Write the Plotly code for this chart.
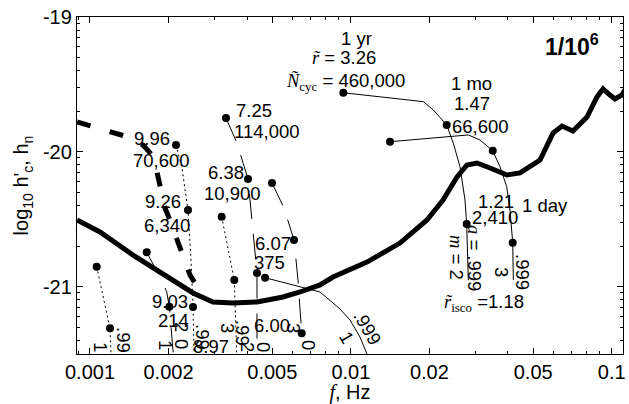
import numpy as np
import plotly.graph_objects as go

SANS = "Liberation Sans, Arial, sans-serif"
SERIF = "Liberation Serif, Times New Roman, serif"

# ---------------- data (f in Hz, y = log10 h) ----------------
noise_f = [0.000892, 0.001092, 0.001462, 0.001973, 0.002483, 0.002962, 0.003534, 0.004367,
           0.005495, 0.006385, 0.007617, 0.008545, 0.01153, 0.01543, 0.01958, 0.02256,
           0.02553, 0.02788, 0.03045, 0.03416, 0.03969, 0.04452, 0.05311, 0.05957,
           0.0645, 0.07105, 0.0804, 0.08785, 0.0926, 0.0985, 0.1030, 0.1095, 0.1134]
noise_y = [-20.506, -20.595, -20.766, -20.929, -21.047, -21.114, -21.122, -21.114,
           -21.077, -21.040, -20.988, -20.929, -20.818, -20.677, -20.506, -20.358,
           -20.187, -20.098, -20.083, -20.120, -20.172, -20.157, -20.061, -19.861,
           -19.809, -19.846, -19.742, -19.593, -19.534, -19.579, -19.608, -19.579, -19.527]

noise2_f = [0.000892, 0.001, 0.001193, 0.001362, 0.001597, 0.001729, 0.001806, 0.001872,
            0.001939, 0.002044, 0.002175, 0.002273, 0.002417, 0.002594]
noise2_y = [-19.779, -19.809, -19.853, -19.883, -19.950, -20.024, -20.150, -20.276,
            -20.417, -20.528, -20.677, -20.766, -20.914, -21.010]

# a=.999 tracks
a999_m2_f = [0.009361, 0.01896, 0.02071, 0.02331, 0.02471, 0.02621, 0.02739, 0.02780, 0.02820]
a999_m2_y = [-19.562, -19.628, -19.690, -19.801, -19.937, -20.111, -20.358, -20.536, -20.951]
a999_m2_dots = [0, 3, 7]
a999_m3_f = [0.01413, 0.02820, 0.03126, 0.03499, 0.03731, 0.03959, 0.04075, 0.04174, 0.04196]
a999_m3_y = [-19.925, -19.875, -19.912, -19.992, -20.111, -20.259, -20.432, -20.674, -20.951]
a999_m3_dots = [0, 3, 7]
a999_m1_f = [0.004689, 0.007617, 0.009087, 0.009924, 0.01084, 0.01153]
a999_m1_y = [-20.934, -21.040, -21.166, -21.248, -21.374, -21.500]
a999_m1_dots = [0]

# a=0 tracks
a0_m2_f = [0.003322, 0.003660, 0.004034, 0.004216, 0.004367, 0.004367]
a0_m2_y = [-19.749, -19.935, -20.202, -20.573, -20.899, -21.500]
a0_m2_dots = [0, 2, 4]
a0_m3_f = [0.004986, 0.005542, 0.006055, 0.006272, 0.006481]
a0_m3_y = [-20.231, -20.417, -20.654, -20.951, -21.346]
a0_m3_dots = [0, 2, 4]
a0_m1_f = [0.001650, 0.001855, 0.001968, 0.002014, 0.002086]
a0_m1_y = [-20.746, -20.927, -21.038, -21.149, -21.500]
a0_m1_dots = [0, 3]

# a=.99 tracks
a99_m2_f = [0.002137, 0.002253, 0.002375, 0.002439, 0.002483, 0.002504]
a99_m2_y = [-19.950, -20.120, -20.432, -20.803, -21.151, -21.500]
a99_m2_dots = [0, 2, 4]
a99_m3_f = [0.003198, 0.003441, 0.003574, 0.003650]
a99_m3_y = [-20.481, -20.780, -20.951, -21.500]
a99_m3_dots = [0, 2]
a99_m1_f = [0.001061, 0.001193, 0.001204]
a99_m1_y = [-20.852, -21.309, -21.500]
a99_m1_dots = [0, 1]

x_tickvals = [0.001, 0.002, 0.005, 0.01, 0.02, 0.05, 0.1]
x_ticktext = ["0.001", "0.002", "0.005", "0.01", "0.02", "0.05", "0.1"]
y_tickvals = [-21, -20, -19]
y_ticktext = ["-21", "-20", "-19"]

# labels: (text, log10 f, y, angle)
labels = [
    ("1 yr", -1.980, -19.156, 0),
    ("<span style='font-family:Liberation Serif'><i>r\u0303</i></span> = 3.26", -2.0263, -19.304, 0),
    ("<span style='font-family:Liberation Serif'><i>\u00d1</i><sub>cyc</sub></span> = 460,000", -2.0224, -19.482, 0),
    ("1 mo", -1.5356, -19.490, 0),
    ("1.47", -1.5356, -19.638, 0),
    ("66,600", -1.5011, -19.809, 0),
    ("1.21", -1.4435, -20.365, 0),
    ("1 day", -1.2557, -20.395, 0),
    ("2,410", -1.4474, -20.484, 0),
    ("<span style='font-family:Liberation Serif'><i>m</i></span> = 2", -1.5969, -20.780, 90),
    ("<span style='font-family:Liberation Serif'><i>a</i></span> = .999", -1.5241, -20.788, 90),
    ("3", -1.4206, -20.892, 90),
    (".999", -1.3400, -20.892, 90),
    ("<span style='font-family:Liberation Serif'><i>r\u0303</i><sub>isco</sub></span> =1.18", -1.4896, -21.122, 0),
    ("7.25", -2.3713, -19.690, 0),
    ("114,000", -2.3214, -19.846, 0),
    ("6.38", -2.4786, -20.150, 0),
    ("10,900", -2.4556, -20.306, 0),
    ("6.07", -2.2985, -20.677, 0),
    ("375", -2.3100, -20.818, 0),
    ("9.96", -2.7623, -19.898, 0),
    ("70,600", -2.7278, -20.061, 0),
    ("9.26", -2.7201, -20.372, 0),
    ("6,340", -2.7048, -20.543, 0),
    ("9.03", -2.6933, -21.114, 0),
    ("214", -2.6780, -21.248, 0),
    ("8.97", -2.5361, -21.448, 0),
    ("6.00", -2.3023, -21.292, 0),
    ("1", -2.9617, -21.448, 90),
    (".99", -2.8735, -21.396, 90),
    ("1", -2.7125, -21.433, 90),
    ("2", -2.6473, -21.300, 90),
    ("0", -2.6473, -21.426, 90),
    (".99", -2.5668, -21.374, 90),
    ("3", -2.4748, -21.307, 90),
    (".99", -2.4173, -21.344, 90),
    ("2", -2.3981, -21.448, 90),
    ("0", -2.3368, -21.448, 90),
    ("3", -2.2218, -21.307, 90),
    ("0", -2.1643, -21.433, 90),
    ("1", -2.0148, -21.374, 60),
    (".999", -1.9381, -21.307, 60),
]

fig = go.Figure()

def track(fs, ys, dots, dash):
    fig.add_trace(go.Scatter(x=fs, y=ys, mode="lines",
                             line=dict(color="black", width=1, dash=dash),
                             hoverinfo="skip", showlegend=False))
    fig.add_trace(go.Scatter(x=[fs[i] for i in dots], y=[ys[i] for i in dots],
                             mode="markers", marker=dict(color="black", size=8),
                             hoverinfo="skip", showlegend=False))

track(a999_m2_f, a999_m2_y, a999_m2_dots, "solid")
track(a999_m3_f, a999_m3_y, a999_m3_dots, "solid")
track(a999_m1_f, a999_m1_y, a999_m1_dots, "solid")
track(a0_m2_f, a0_m2_y, a0_m2_dots, "25px,15px")
track(a0_m3_f, a0_m3_y, a0_m3_dots, "25px,15px")
track(a0_m1_f, a0_m1_y, a0_m1_dots, "25px,15px")
track(a99_m2_f, a99_m2_y, a99_m2_dots, "2px,3px")
track(a99_m3_f, a99_m3_y, a99_m3_dots, "2px,3px")
track(a99_m1_f, a99_m1_y, a99_m1_dots, "2px,3px")

fig.add_trace(go.Scatter(x=noise_f, y=noise_y, mode="lines",
                         line=dict(color="black", width=5),
                         hoverinfo="skip", showlegend=False))
fig.add_trace(go.Scatter(x=noise2_f, y=noise2_y, mode="lines",
                         line=dict(color="black", width=5, dash="14px,20px"),
                         hoverinfo="skip", showlegend=False))

for text, lx, ly, ang in labels:
    fig.add_annotation(x=lx, y=ly, xref="x", yref="y", text=text, showarrow=False,
                       textangle=ang, font=dict(family=SANS, size=18.5, color="black"))

fig.add_annotation(x=-1.1522, y=-19.208, xref="x", yref="y",
                   text="<b>1/10<sup>6</sup></b>", showarrow=False,
                   font=dict(family=SANS, size=23, color="black"))

y_minor = [d + np.log10(n) for d in (-22, -21, -20) for n in range(2, 10)]
y_minor = [v for v in y_minor if -21.5 <= v <= -19]
x_minor = [k * 10.0 ** e for e in (-4, -3, -2, -1) for k in range(2, 10)]
x_minor = [v for v in x_minor if 0.00089 <= v <= 0.114 and v not in x_tickvals]

fig.update_xaxes(type="log", range=[-3.0498, -0.9567],
                 tickvals=x_tickvals, ticktext=x_ticktext,
                 ticks="inside", ticklen=6, tickwidth=1, tickcolor="black",
                 minor=dict(tickvals=x_minor, ticks="inside", ticklen=3, tickcolor="black"),
                 showline=True, linecolor="black", linewidth=1.3, mirror="ticks",
                 showgrid=False, zeroline=False,
                 tickfont=dict(family=SANS, size=20, color="black"),
                 title=dict(text="<span style='font-family:Liberation Serif'><i>f</i></span>, Hz",
                            font=dict(family=SANS, size=20, color="black"), standoff=5))
fig.update_yaxes(range=[-21.5, -19],
                 tickvals=y_tickvals, ticktext=y_ticktext,
                 ticks="inside", ticklen=6, tickwidth=1, tickcolor="black",
                 minor=dict(tickvals=y_minor, ticks="inside", ticklen=3, tickcolor="black"),
                 showline=True, linecolor="black", linewidth=1.3, mirror="ticks",
                 showgrid=False, zeroline=False,
                 tickfont=dict(family=SANS, size=20, color="black"),
                 title=dict(text="log<sub>10</sub> h'<sub>c</sub>, h<sub>n</sub>",
                            font=dict(family=SANS, size=20, color="black"), standoff=8))

fig.update_layout(width=629, height=404, margin=dict(l=77, r=6, t=17, b=50, autoexpand=False),
                  plot_bgcolor="white", paper_bgcolor="white")

fig.write_html("out.html", config={"displayModeBar": False},
               post_script="document.body.style.margin='0px';document.body.style.overflow='hidden';")
